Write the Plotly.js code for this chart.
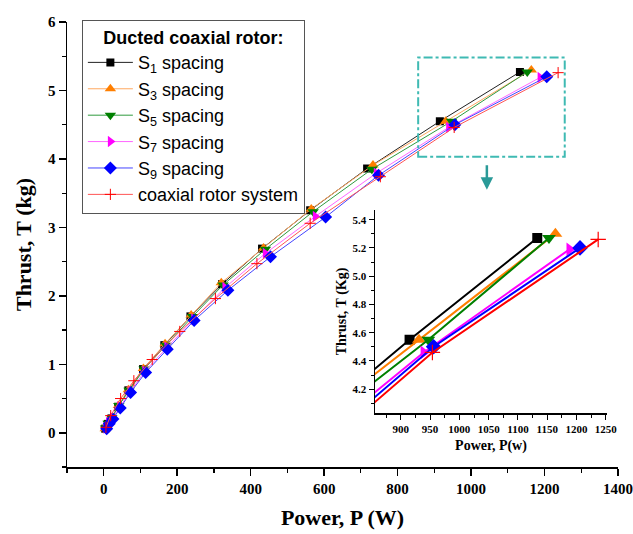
<!DOCTYPE html>
<html>
<head>
<meta charset="utf-8">
<script src="https://cdn.plot.ly/plotly-3.0.1.min.js"></script>
<style>html,body{margin:0;padding:0;background:#fff;}#chart{width:633px;height:534px;}</style>
</head>
<body>
<div id="chart"></div>
<script>
// Data (Power in W, Thrust in kg)
const s1P = [4, 11, 21, 39, 67, 107, 165, 236, 322, 431, 562, 717, 915, 1133];
const s1T = [0.06, 0.13, 0.21, 0.38, 0.62, 0.93, 1.28, 1.70, 2.17, 2.69, 3.25, 3.86, 4.55, 5.27];
const s3P = [4, 11, 21, 40, 67, 108, 167, 238, 320, 435, 565, 733, 931, 1164];
const s3T = [0.06, 0.14, 0.22, 0.40, 0.63, 0.94, 1.30, 1.72, 2.19, 2.70, 3.27, 3.91, 4.55, 5.30];
const s5P = [5, 12, 22, 41, 69, 110, 170, 242, 325, 440, 570, 730, 947, 1153];
const s5T = [0.07, 0.14, 0.22, 0.40, 0.62, 0.93, 1.28, 1.70, 2.16, 2.68, 3.23, 3.85, 4.55, 5.27];
const s7P = [6, 13, 24, 44, 72, 112, 172, 245, 330, 440, 576, 742, 939, 1188];
const s7T = [0.07, 0.15, 0.22, 0.38, 0.60, 0.90, 1.25, 1.66, 2.12, 2.62, 3.16, 3.79, 4.46, 5.19];
const s9P = [8, 15, 25, 45, 73, 114, 173, 246, 338, 454, 604, 748, 956, 1206];
const s9T = [0.06, 0.13, 0.20, 0.36, 0.59, 0.88, 1.22, 1.64, 2.08, 2.57, 3.15, 3.76, 4.50, 5.20];
const coP = [6, 19, 46, 82, 132, 207, 304, 417, 562, 753, 954, 1237];
const coT = [0.08, 0.25, 0.50, 0.76, 1.07, 1.48, 1.96, 2.47, 3.06, 3.74, 4.46, 5.26];

const names = ['S<sub>1</sub> spacing','S<sub>3</sub> spacing','S<sub>5</sub> spacing','S<sub>7</sub> spacing','S<sub>9</sub> spacing','coaxial rotor system'];
const xs = [s1P, s3P, s5P, s7P, s9P, coP];
const ys = [s1T, s3T, s5T, s7T, s9T, coT];
const mainLineColors = ['#222222','#FFA860','#2E9A3E','#FF66FF','#4444FF','#FF5555'];
const inLineColors = ['#000000','#FF7F00','#008000','#FF00FF','#0000FF','#FF0000'];
const markerColors = ['#000000','#FF7F00','#008000','#FF00FF','#0000FF','#FF0000'];
const symbols = ['square','triangle-up','triangle-down','triangle-right','diamond','cross-thin-open'];
const mainSizes = [8, 10, 10, 10, 10, 8];
const inSizes = [10, 12, 12, 12, 12, 11];

const traces = [];
for (let i = 0; i < 6; i++) {
  traces.push({
    x: xs[i], y: ys[i], name: names[i], type: 'scatter', mode: 'lines+markers',
    line: {color: mainLineColors[i], width: 1},
    marker: {symbol: symbols[i], size: mainSizes[i], color: markerColors[i],
             line: {color: markerColors[i], width: i === 5 ? 1 : 0}},
    xaxis: 'x', yaxis: 'y'
  });
}
for (let i = 0; i < 6; i++) {
  traces.push({
    x: xs[i], y: ys[i], name: names[i], type: 'scatter', mode: 'lines+markers', showlegend: false,
    line: {color: inLineColors[i], width: 2},
    marker: {symbol: symbols[i], size: inSizes[i], color: markerColors[i],
             line: {color: markerColors[i], width: i === 5 ? 1.2 : 0}},
    xaxis: 'x2', yaxis: 'y2'
  });
}

const serif = 'Liberation Serif, Times New Roman, serif';
const sans = 'Liberation Sans, Arial, sans-serif';
const layout = {
  width: 633, height: 534,
  margin: {l: 67, r: 15, t: 22, b: 67},
  paper_bgcolor: '#ffffff', plot_bgcolor: 'rgba(0,0,0,0)',
  showlegend: true,
  legend: {
    x: 0.027, y: 1.005, xanchor: 'left', yanchor: 'top',
    bgcolor: '#ffffff', bordercolor: '#555555', borderwidth: 1,
    font: {family: sans, size: 18, color: '#000'},
    title: {text: '<b>Ducted coaxial rotor:</b>', side: 'top center', font: {family: sans, size: 18, color: '#000'}},
    itemwidth: 45, tracegroupgap: 0
  },
  xaxis: {
    domain: [0, 1], range: [-100, 1400], tickvals: [0,200,400,600,800,1000,1200,1400],
    showline: true, linecolor: '#000', linewidth: 1.5, ticks: 'outside', ticklen: 7, tickwidth: 1.5, tickcolor: '#000',
    minor: {dtick: 100, tick0: 0, ticks: 'outside', ticklen: 4, tickcolor: '#000', tickwidth: 1.2},
    showgrid: false, zeroline: false,
    tickfont: {family: serif, size: 15, color: '#000', weight: 'bold'},
    title: {text: '<b>Power, P (W)</b>', font: {family: serif, size: 22, color: '#000'}, standoff: 14}
  },
  yaxis: {
    domain: [0, 1], range: [-0.5, 6], tickvals: [0,1,2,3,4,5,6],
    showline: true, linecolor: '#000', linewidth: 1.5, ticks: 'outside', ticklen: 7, tickwidth: 1.5, tickcolor: '#000',
    minor: {dtick: 0.5, tick0: 0, ticks: 'outside', ticklen: 4, tickcolor: '#000', tickwidth: 1.2},
    showgrid: false, zeroline: false,
    tickfont: {family: serif, size: 15, color: '#000', weight: 'bold'},
    title: {text: '<b>Thrust, T (kg)</b>', font: {family: serif, size: 22, color: '#000'}, standoff: 10}
  },
  xaxis2: {
    domain: [0.559, 0.980], anchor: 'y2', range: [856, 1252],
    tickvals: [900,950,1000,1050,1100,1150,1200,1250],
    showline: true, linecolor: '#000', linewidth: 1.5, ticks: 'outside', ticklen: 5, tickcolor: '#000',
    minor: {dtick: 25, tick0: 900, ticks: 'outside', ticklen: 3, tickcolor: '#000'},
    showgrid: false, zeroline: false,
    tickfont: {family: serif, size: 11, color: '#000', weight: 'bold'},
    title: {text: '<b>Power, P(w)</b>', font: {family: serif, size: 14, color: '#000'}, standoff: 6}
  },
  yaxis2: {
    domain: [0.121, 0.578], anchor: 'x2', range: [4.03, 5.47],
    tickvals: [4.2,4.4,4.6,4.8,5.0,5.2,5.4], ticktext: ['4.2','4.4','4.6','4.8','5.0','5.2','5.4'],
    showline: true, linecolor: '#000', linewidth: 1.5, ticks: 'outside', ticklen: 5, tickcolor: '#000',
    minor: {dtick: 0.1, tick0: 4.2, ticks: 'outside', ticklen: 3, tickcolor: '#000'},
    showgrid: false, zeroline: false,
    tickfont: {family: serif, size: 11, color: '#000', weight: 'bold'},
    title: {text: '<b>Thrust, T (Kg)</b>', font: {family: serif, size: 14, color: '#000'}, standoff: 2}
  },
  shapes: [{
    type: 'rect', xref: 'x', yref: 'y', x0: 856, x1: 1255, y0: 4.03, y1: 5.48,
    line: {color: '#3FBAB3', width: 2, dash: 'dashdot'}, fillcolor: 'rgba(0,0,0,0)'
  }],
  annotations: [{
    xref: 'x', yref: 'y', x: 1043, y: 3.55, ax: 0, ay: -26, axref: 'pixel', ayref: 'pixel',
    text: '', showarrow: true, arrowhead: 2, arrowsize: 1, arrowwidth: 2.5, arrowcolor: '#2A9A98'
  }]
};

Plotly.newPlot('chart', traces, layout, {staticPlot: true, displayModeBar: false});
</script>
</body>
</html>
